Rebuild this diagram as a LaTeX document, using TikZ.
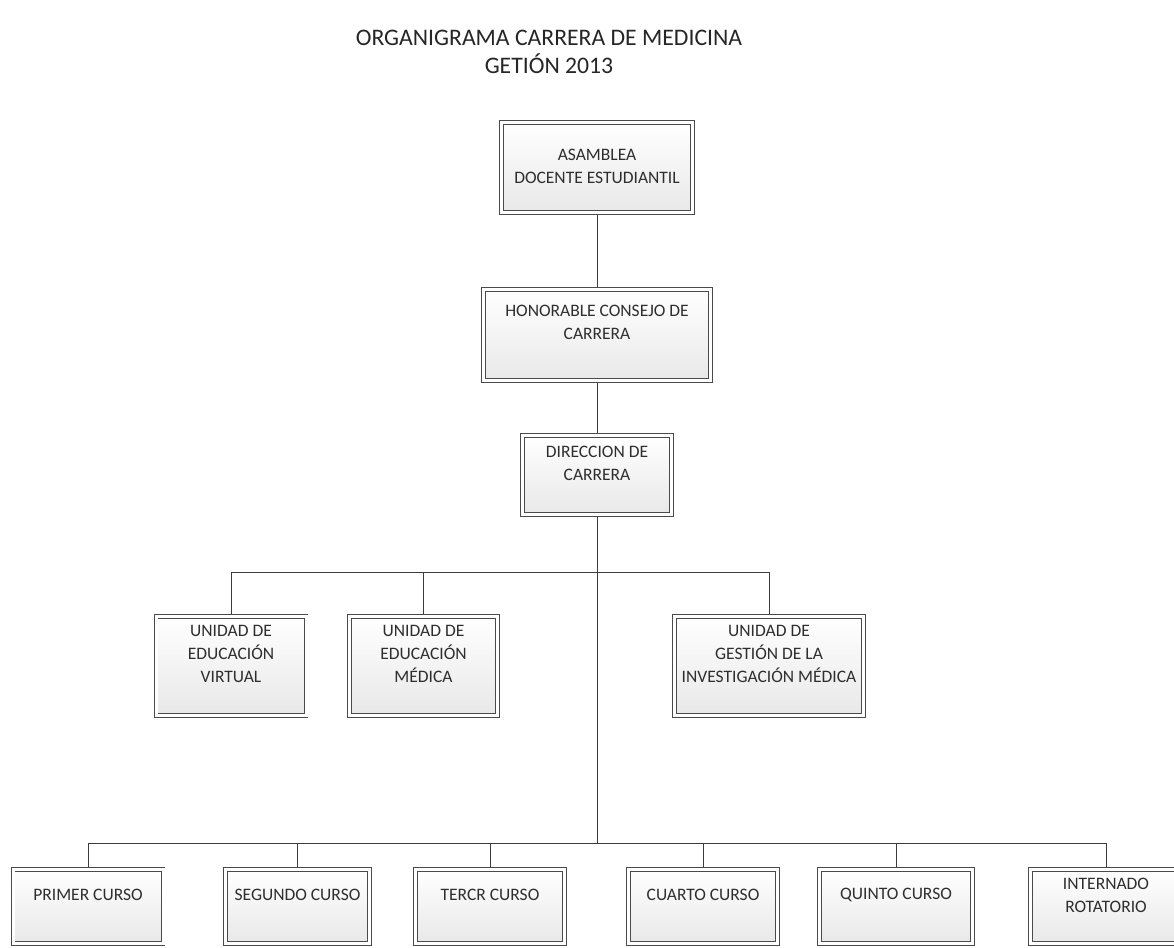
\documentclass[tikz,border=0pt]{standalone}
\usepackage{fontspec}
\setmainfont{Carlito}
\definecolor{linec}{HTML}{3C3C3C}
\definecolor{boxline}{HTML}{4A4A4A}
\definecolor{txtc}{HTML}{2E2E2E}
\begin{document}
\begin{tikzpicture}[x=1pt,y=-1pt,
  orgbox/.style={draw=boxline, line width=0.9pt, double=white, double distance=3pt,
    top color=white, bottom color=black!9, inner sep=0pt, outer sep=2.4pt},
  boxtext/.style={text=txtc, align=center, font=\fontsize{17.5}{23}\selectfont, inner sep=0pt},
  conn/.style={draw=linec, line width=1pt}]
\useasboundingbox (0,0) rectangle (1174,947);
\clip (0,0) rectangle (1174,947);
\fill[white] (0,0) rectangle (1174,947);

\node[text=black!85, align=center, font=\fontsize{23.7}{28}\selectfont] (title) at (549,52)
  {ORGANIGRAMA CARRERA DE MEDICINA\\GETIÓN 2013};

% boxes
\node[orgbox, minimum width=191pt, minimum height=90pt] (asam) at (597,167.5) {};
\node[orgbox, minimum width=227pt, minimum height=91pt] (hon) at (597,335) {};
\node[orgbox, minimum width=149pt, minimum height=79pt] (dir) at (597,475) {};
\node[orgbox, minimum width=150pt, minimum height=99pt] (u1) at (231,666) {};
\node[orgbox, minimum width=148pt, minimum height=99pt] (u2) at (423.5,666) {};
\node[orgbox, minimum width=189pt, minimum height=99pt] (u3) at (769,666) {};
\node[orgbox, minimum width=150pt, minimum height=74pt] (c1) at (88,906.5) {};
\node[orgbox, minimum width=144pt, minimum height=74pt] (c2) at (297.5,906.5) {};
\node[orgbox, minimum width=149pt, minimum height=74pt] (c3) at (490,906.5) {};
\node[orgbox, minimum width=149pt, minimum height=74pt] (c4) at (703,906.5) {};
\node[orgbox, minimum width=153pt, minimum height=74pt] (c5) at (896,906.5) {};
\node[orgbox, minimum width=151pt, minimum height=74pt] (c6) at (1106,906.5) {};

% texts
\node[boxtext] (tasam) at (597,166.5) {ASAMBLEA\\DOCENTE ESTUDIANTIL};
\node[boxtext] (thon) at (597,322.5) {HONORABLE CONSEJO DE\\CARRERA};
\node[boxtext] (tdir) at (597,463.5) {DIRECCION DE\\CARRERA};
\node[boxtext] (tu1) at (231,653.5) {UNIDAD DE\\EDUCACIÓN\\VIRTUAL};
\node[boxtext] (tu2) at (423.5,653.5) {UNIDAD DE\\EDUCACIÓN\\MÉDICA};
\node[boxtext] (tu3) at (769,653.5) {UNIDAD DE\\GESTIÓN DE LA\\INVESTIGACIÓN MÉDICA};
\node[boxtext] (tc1) at (88,895) {PRIMER CURSO};
\node[boxtext] (tc2) at (297.5,895) {SEGUNDO CURSO};
\node[boxtext] (tc3) at (490,895) {TERCR CURSO};
\node[boxtext] (tc4) at (703,895) {CUARTO CURSO};
\node[boxtext] (tc5) at (896,895) {QUINTO CURSO};
\node[boxtext] (tc6) at (1106,895) {INTERNADO\\ROTATORIO};

% junctions
\coordinate (j1) at (597,572);
\coordinate (j2) at (597,843);

% connectors
\draw[conn] (asam.south) -- (hon.north);
\draw[conn] (hon.south) -- (dir.north);
\draw[conn] (dir.south) -- (j2);
\draw[conn] (u1.north |- j1) -- (u3.north |- j1);
\foreach \n in {u1,u2,u3} \draw[conn] (\n.north |- j1) -- (\n.north);
\draw[conn] (c1.north |- j2) -- (c6.north |- j2);
\foreach \n in {c1,c2,c3,c4,c5,c6} \draw[conn] (\n.north |- j2) -- (\n.north);
\end{tikzpicture}
\end{document}
